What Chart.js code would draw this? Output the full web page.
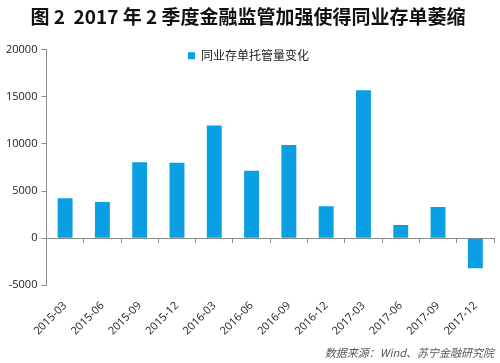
<!DOCTYPE html>
<html>
<head>
<meta charset="utf-8">
<script src="https://cdn.jsdelivr.net/npm/chart.js@4/dist/chart.umd.min.js"></script>
<style>
    html, body { margin: 0; padding: 0; background: #fff; }
    #wrap { width: 500px; height: 363px; }
</style>
</head>
<body>
<div id="wrap"><canvas id="depositChart" width="500" height="363"></canvas></div>
<script>
// Quarterly data
const quarters = ['2015-03', '2015-06', '2015-09', '2015-12', '2016-03', '2016-06',
    '2016-09', '2016-12', '2017-03', '2017-06', '2017-09', '2017-12'];
const custodyChange = [4250, 3850, 8050, 8000, 11950, 7150, 9900, 3400, 15700, 1400, 3300, -3200];
const yTicks = [-5000, 0, 5000, 10000, 15000, 20000];

const barColor = '#0A9FE2';
const axisColor = '#8c8c8c';
const textColor = '#222';

// Legend sits inside the plot, centred on the canvas, just under the top
const legendPlacer = {
    id: 'legendPlacer',
    beforeDraw(chart) {
        const lg = chart.legend;
        if (!lg) return;
        const w = lg.width;
        lg.left = Math.round((chart.width - w) / 2) + 3;
        lg.right = lg.left + w;
        lg.top = chart.chartArea.top - 2;
        lg.bottom = lg.top + lg.height;
    }
};

const ctx = document.getElementById('depositChart');

new Chart(ctx.getContext('2d'), {
    type: 'bar',
    data: {
        labels: quarters,
        datasets: [{
            label: '同业存单托管量变化',
            data: custodyChange,
            backgroundColor: barColor,
            borderWidth: 0,
            barPercentage: 0.4,
            categoryPercentage: 1.0,
            xAxisID: 'x'
        }]
    },
    options: {
        responsive: false,
        animation: false,
        layout: { padding: { left: 2, right: 6, top: 0, bottom: 4 } },
        plugins: {
            title: {
                display: true,
                text: '图 2  2017 年 2 季度金融监管加强使得同业存单萎缩',
                color: '#111',
                font: { family: '"Noto Sans CJK SC", "Liberation Sans", sans-serif', size: 19, weight: 'bold' },
                padding: { top: 5, bottom: 22 }
            },
            subtitle: {
                display: true,
                position: 'bottom',
                align: 'end',
                text: '数据来源：Wind、苏宁金融研究院',
                color: '#555',
                font: { family: '"Noto Sans CJK SC", sans-serif', size: 11, style: 'italic' },
                padding: { top: 2, bottom: 0 }
            },
            legend: {
                display: true,
                position: 'chartArea',
                align: 'start',
                labels: {
                    color: textColor,
                    font: { family: '"Noto Sans CJK SC", sans-serif', size: 12 },
                    boxWidth: 7,
                    boxHeight: 7,
                    padding: 2
                }
            },
            tooltip: { enabled: false }
        },
        scales: {
            x: {
                type: 'category',
                position: 'bottom',
                border: { display: false },
                grid: { display: false },
                ticks: {
                    color: textColor,
                    font: { family: '"Open Sans", sans-serif', size: 11 },
                    maxRotation: 45,
                    minRotation: 45,
                    padding: 6
                }
            },
            // axis line drawn through zero with the boundary tick marks
            xZero: {
                type: 'category',
                labels: quarters,
                position: { y: 0 },
                offset: true,
                border: { display: true, color: axisColor, width: 1 },
                grid: { offset: true, drawOnChartArea: false, tickLength: 4, color: axisColor },
                ticks: { display: false }
            },
            y: {
                min: -5000,
                max: 20000,
                afterBuildTicks: (axis) => { axis.ticks = yTicks.map(v => ({ value: v })); },
                border: { display: true, color: axisColor, width: 1 },
                grid: { drawOnChartArea: false, tickLength: 5, color: axisColor },
                ticks: {
                    color: textColor,
                    font: { family: '"Open Sans", sans-serif', size: 11 },
                    padding: 4,
                    callback: (value) => String(value)
                }
            }
        }
    },
    plugins: [legendPlacer]
});
</script>
</body>
</html>
